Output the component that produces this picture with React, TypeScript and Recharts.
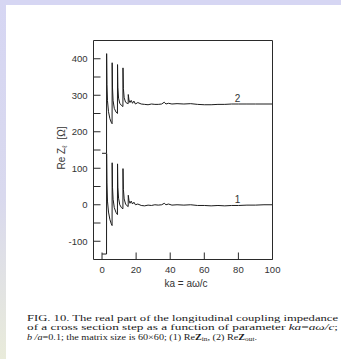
import React from 'react';
import { LineChart, Line, XAxis, YAxis, ReferenceDot } from 'recharts';

// curve (1): Re Z_in
const ka1 = [
  0, 2.65, 2.7, 2.9, 3.2, 3.8, 4.6, 5.4, 5.9, 5.95, 6.15, 6.5, 7.2, 8.2, 9.05, 9.1, 9.3, 9.7, 10.4, 11.4,
  12.25, 12.3, 12.55, 13, 13.8, 14.7, 15.35, 15.4, 15.8, 16.4, 17.1, 17.9, 18.7, 19.6, 21, 23, 25, 27, 29,
  31, 33, 35, 36.5, 37.5, 39, 41, 44, 48, 52, 56, 60, 64, 68, 72, 76, 80, 85, 90, 95, 100,
];
const re1 = [
  -135, -135, 140, 60, 10, -20, -40, -52, -57, 115, 48, 15, -8, -21, -27, 112, 48, 18, 0, -8,
  -11, 99, 42, 16, 2, -3, -5, 26, 12, 4, 10, 2, 7, 0, 2, -2, -3, -1, -2,
  0, -1, 0, 4, 0, 2, -1, 0, -1, 0, -2, -2, -3, -2, -3, -2, -2, -1, -1, 0, 0,
];

// curve (2): Re Z_out
const ka2 = [
  0, 2.65, 2.7, 2.9, 3.2, 3.8, 4.6, 5.4, 5.9, 5.95, 6.15, 6.5, 7.2, 8.2, 9.05, 9.1, 9.3, 9.7, 10.4, 11.4,
  12.25, 12.3, 12.55, 13, 13.8, 14.7, 15.35, 15.4, 15.8, 16.4, 17.1, 17.9, 18.7, 19.6, 21, 23, 25, 27, 29,
  31, 33, 35, 36.5, 37.5, 39, 41, 44, 48, 52, 56, 60, 64, 68, 72, 76, 80, 85, 90, 95, 100,
];
const re2 = [
  141, 141, 414, 330, 285, 255, 236, 226, 222, 389, 320, 285, 264, 254, 250, 384, 322, 292, 278, 272,
  269, 375, 318, 293, 281, 278, 277, 302, 287, 280, 286, 278, 284, 276, 280, 276, 275, 274, 276,
  275, 275, 276, 281, 276, 278, 276, 277, 276, 277, 275, 274, 274, 275, 275, 276, 276, 276, 276, 276, 276,
];

const xTicks = [0, 20, 40, 60, 80, 100];
const xTopTicks = [0, 20, 40, 60, 80];
const yTicks = [-100, -50, 0, 50, 100, 150, 200, 250, 300, 350, 400];

const series1 = ka1.map((ka, i) => ({ ka, v: re1[i] }));
const series2 = ka2.map((ka, i) => ({ ka, v: re2[i] }));

const INK = '#2a2a2a';
const sans = 'Liberation Sans, Arial, sans-serif';
const tickFont = { fill: '#333', fontSize: 9.5, fontFamily: sans };

const renderXTitle = (props: any) => {
  const vb = props.viewBox;
  return (
    <text x={vb.x + vb.width / 2 + 3} y={vb.y + 27} textAnchor="middle" fontSize={10} fontFamily={sans} fill="#333">
      ka = aω/c
    </text>
  );
};

const renderYTitle = (props: any) => {
  const vb = props.viewBox;
  const cx = vb.x + 61;
  const cy = vb.y + vb.height / 2 - 2;
  return (
    <text
      transform={`translate(${cx},${cy}) rotate(-90)`}
      x={0}
      y={3.5}
      textAnchor="middle"
      fontSize={10}
      fontFamily={sans}
      fill="#333"
    >
      Re Z
      <tspan dy={2.5} fontSize={7}>ℓ</tspan>
      <tspan dy={-2.5} dx={6}>[Ω]</tspan>
    </text>
  );
};

const serif = 'Liberation Serif, Times New Roman, serif';

const Caption = () => (
  <svg width={341} height={359} style={{ position: 'absolute', left: 0, top: 0, pointerEvents: 'none' }}>
    <text x={27} y={320.5} fontSize={9} fontFamily={serif} fill="#1a1a1a" textLength={311} lengthAdjust="spacingAndGlyphs">
      FIG. 10. The real part of the longitudinal coupling impedance
    </text>
    <text x={27} y={330} fontSize={9} fontFamily={serif} fill="#1a1a1a" textLength={311} lengthAdjust="spacingAndGlyphs">
      of a cross section step as a function of parameter <tspan fontStyle="italic">ka</tspan>=
      <tspan fontStyle="italic">aω/c</tspan>;
    </text>
    <text x={27} y={339.5} fontSize={9} fontFamily={serif} fill="#1a1a1a" textLength={230} lengthAdjust="spacingAndGlyphs">
      <tspan fontStyle="italic">b /a</tspan>=0.1; the matrix size is 60×60; (1) Re
      <tspan fontWeight="bold">Z</tspan>
      <tspan fontSize={6.5} dy={1.5}>in</tspan>
      <tspan dy={-1.5}>, (2) Re</tspan>
      <tspan fontWeight="bold">Z</tspan>
      <tspan fontSize={6.5} dy={1.5}>out</tspan>
      <tspan dy={-1.5}>.</tspan>
    </text>
  </svg>
);

export default function App() {
  return (
    <div style={{ position: 'absolute', left: 0, top: 0, width: 341, height: 359, background: '#fff', overflow: 'hidden' }}>
      <div style={{ position: 'absolute', left: 0, top: 0, width: 341, height: 5, background: '#d6d6f3' }} />
      <div
        style={{
          position: 'absolute',
          left: 0,
          top: 0,
          width: 6,
          height: 359,
          background: 'linear-gradient(to bottom, #d6d6f3 0%, #d9d9ee 55%, #e9ebda 100%)',
        }}
      />
      <div style={{ position: 'absolute', left: 0, top: 0 }}>
        <LineChart width={341} height={359} margin={{ top: 0, right: 0, bottom: 0, left: 0 }}>
          <XAxis
            xAxisId="b"
            dataKey="ka"
            type="number"
            domain={[-5, 100]}
            allowDataOverflow
            ticks={xTicks}
            height={99.5}
            stroke={INK}
            tickSize={-7}
            tickMargin={14}
            tick={tickFont}
            label={renderXTitle}
          />
          <XAxis
            xAxisId="t"
            orientation="top"
            dataKey="ka"
            type="number"
            domain={[-5, 100]}
            allowDataOverflow
            ticks={xTopTicks}
            height={40.5}
            stroke={INK}
            tickSize={-7}
            tick={false}
          />
          <YAxis
            yAxisId="l"
            type="number"
            domain={[-150, 450]}
            allowDataOverflow
            ticks={yTicks}
            width={93.5}
            stroke={INK}
            tickSize={-7}
            tickMargin={13}
            tick={tickFont}
            tickFormatter={(v: number) => (v % 100 === 0 ? String(v) : '')}
            label={renderYTitle}
          />
          <YAxis
            yAxisId="r"
            orientation="right"
            type="number"
            domain={[-150, 450]}
            allowDataOverflow
            ticks={yTicks}
            width={68.5}
            stroke={INK}
            tickSize={-7}
            tick={false}
          />
          <Line xAxisId="b" yAxisId="l" data={series1} dataKey="v" type="linear" stroke="#1c1c1c" strokeWidth={1} dot={false} isAnimationActive={false} />
          <Line xAxisId="b" yAxisId="l" data={series2} dataKey="v" type="linear" stroke="#1c1c1c" strokeWidth={1} dot={false} isAnimationActive={false} />
          <ReferenceDot
            xAxisId="b"
            yAxisId="l"
            x={79.5}
            y={14}
            r={0}
            fill="none"
            stroke="none"
            label={{ value: '1', position: 'center', fontSize: 10, fill: '#333', fontFamily: sans }}
          />
          <ReferenceDot
            xAxisId="b"
            yAxisId="l"
            x={79.5}
            y={291}
            r={0}
            fill="none"
            stroke="none"
            label={{ value: '2', position: 'center', fontSize: 10, fill: '#333', fontFamily: sans }}
          />
        </LineChart>
      </div>
      <Caption />
    </div>
  );
}
